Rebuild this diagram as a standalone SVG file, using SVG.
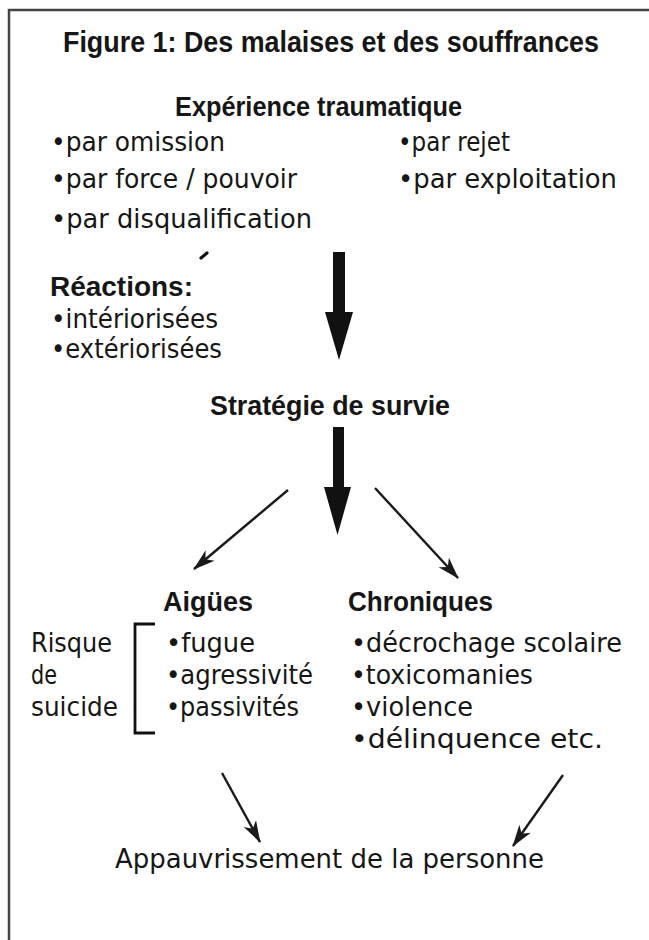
<svg xmlns="http://www.w3.org/2000/svg" width="649" height="940" viewBox="0 0 649 940">
<style>
text{font-family:"DejaVu Sans","Liberation Sans",sans-serif;fill:#161616}
.b{font-family:"Liberation Sans","DejaVu Sans",sans-serif;font-weight:bold;font-size:27px}
.r{font-size:26px}
.t{font-family:"Liberation Sans","DejaVu Sans",sans-serif;font-size:29px;font-weight:bold}
.thin{stroke:#1a1a1a;stroke-width:2.4;fill:none;marker-end:url(#ah)}
.big{fill:#111}
</style>
<defs>
<marker id="ah" markerUnits="userSpaceOnUse" markerWidth="30" markerHeight="20" viewBox="-22 -10 24 20" refX="0" refY="0" orient="auto">
<path d="M1,0 L-21,-7 L-15,0 L-21,7 Z" fill="#1a1a1a"/>
</marker>
</defs>
<rect width="649" height="940" fill="#fff"/>
<path d="M9,940 V10 H649" fill="none" stroke="#444" stroke-width="2.5"/>

<g id="title"><text class="t" x="63" y="52" textLength="536" lengthAdjust="spacingAndGlyphs">Figure 1: Des malaises et des souffrances</text></g>

<g id="experience">
<text class="b" x="175" y="116" textLength="287" lengthAdjust="spacingAndGlyphs">Expérience traumatique</text>
<text class="r" x="51" y="151" textLength="174" lengthAdjust="spacingAndGlyphs">•par omission</text>
<text class="r" x="398" y="151" textLength="112" lengthAdjust="spacingAndGlyphs">•par rejet</text>
<text class="r" x="51" y="188" textLength="246" lengthAdjust="spacingAndGlyphs">•par force / pouvoir</text>
<text class="r" x="398" y="188" textLength="219" lengthAdjust="spacingAndGlyphs">•par exploitation</text>
<text class="r" x="51" y="228" textLength="261" lengthAdjust="spacingAndGlyphs">•par disqualification</text>
<path d="M201,258 L207,253" stroke="#111" stroke-width="3.2" stroke-linecap="round"/>
</g>

<g id="reactions">
<text class="b" x="50" y="296" textLength="143" lengthAdjust="spacingAndGlyphs">Réactions:</text>
<text class="r" x="51" y="328" textLength="167" lengthAdjust="spacingAndGlyphs">•intériorisées</text>
<text class="r" x="51" y="358" textLength="171" lengthAdjust="spacingAndGlyphs">•extériorisées</text>
</g>

<g id="strategie"><text class="b" x="210" y="415" textLength="240" lengthAdjust="spacingAndGlyphs">Stratégie de survie</text></g>

<g id="aigues">
<text class="b" x="163" y="611" textLength="90" lengthAdjust="spacingAndGlyphs">Aigües</text>
<text class="r" x="166" y="652" textLength="89" lengthAdjust="spacingAndGlyphs">•fugue</text>
<text class="r" x="166" y="684" textLength="147" lengthAdjust="spacingAndGlyphs">•agressivité</text>
<text class="r" x="166" y="716" textLength="133" lengthAdjust="spacingAndGlyphs">•passivités</text>
</g>

<g id="risque">
<text class="r" x="31" y="652" textLength="81" lengthAdjust="spacingAndGlyphs">Risque</text>
<text class="r" x="31" y="684" textLength="26" lengthAdjust="spacingAndGlyphs">de</text>
<text class="r" x="31" y="716" textLength="87" lengthAdjust="spacingAndGlyphs">suicide</text>
<path d="M155,624 H135 V733 H155" fill="none" stroke="#111" stroke-width="2.8"/>
</g>

<g id="chroniques">
<text class="b" x="348" y="611" textLength="145" lengthAdjust="spacingAndGlyphs">Chroniques</text>
<text class="r" x="351" y="652" textLength="271" lengthAdjust="spacingAndGlyphs">•décrochage scolaire</text>
<text class="r" x="351" y="684" textLength="182" lengthAdjust="spacingAndGlyphs">•toxicomanies</text>
<text class="r" x="351" y="716" textLength="122" lengthAdjust="spacingAndGlyphs">•violence</text>
<text class="r" x="351" y="748" textLength="252" lengthAdjust="spacingAndGlyphs">•délinquence etc.</text>
</g>

<g id="appauvrissement"><text class="r" x="115" y="868" textLength="429" lengthAdjust="spacingAndGlyphs">Appauvrissement de la personne</text></g>

<g id="connectors">
<polygon class="big" points="333,252 345,252 345,312 353,312 339,360 325,312 333,312"/>
<polygon class="big" points="333,427 344,427 344,487 351,487 337.5,535 324,487 333,487"/>
<path class="thin" d="M288,490 L194,569"/>
<path class="thin" d="M375,488 L458,578"/>
<path class="thin" d="M222,773 L260,842"/>
<path class="thin" d="M563,775 L513,846"/>
</g>
</svg>
